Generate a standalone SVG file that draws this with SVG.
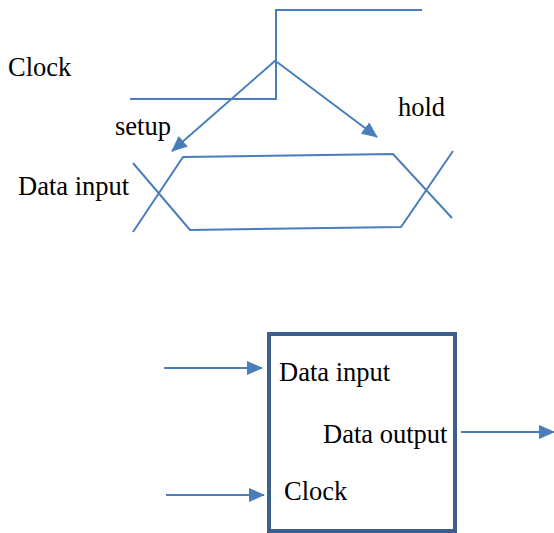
<svg xmlns="http://www.w3.org/2000/svg" width="554" height="533" viewBox="0 0 554 533">
<style>
.w{fill:none;stroke:#4a7ebb;stroke-width:2}
.t{font-family:"Liberation Serif","Times New Roman",serif;font-size:26.5px;fill:#000}
.box{fill:none;stroke:#3c5f8c;stroke-width:4}
</style>
<defs>
<marker id="ah" markerWidth="16" markerHeight="14" refX="15" refY="7" orient="auto" markerUnits="userSpaceOnUse">
<path d="M0,0 L16,7 L0,14 Z" fill="#4a7ebb"/>
</marker>
</defs>
<rect width="554" height="533" fill="#fff"/>
<g id="texts">
<text class="t" x="8" y="76">Clock</text>
<text class="t" x="115" y="135">setup</text>
<text class="t" x="398" y="116">hold</text>
<text class="t" x="18" y="195">Data input</text>
</g>
<g id="clock-wave">
<polyline class="w" points="130,99 276,99 276,10 422,10"/>
</g>
<g id="data-wave">
<polyline class="w" points="133,232 183,157 393,154 452,218"/>
<polyline class="w" points="133,163 190,230 401,227 453,151"/>
</g>
<g id="flipflop">
<rect class="box" x="269" y="334" width="186" height="197"/>
<text class="t" x="279" y="381">Data input</text>
<text class="t" x="323" y="443">Data output</text>
<text class="t" x="284" y="500">Clock</text>
</g>
<g id="connectors">
<line class="w" x1="276" y1="60" x2="172" y2="151" marker-end="url(#ah)"/>
<line class="w" x1="277" y1="62" x2="377" y2="137" marker-end="url(#ah)"/>
<line class="w" x1="164" y1="368" x2="262" y2="368" marker-end="url(#ah)"/>
<line class="w" x1="166" y1="495" x2="264" y2="495" marker-end="url(#ah)"/>
<line class="w" x1="461" y1="432" x2="554" y2="432" marker-end="url(#ah)"/>
</g>
</svg>
